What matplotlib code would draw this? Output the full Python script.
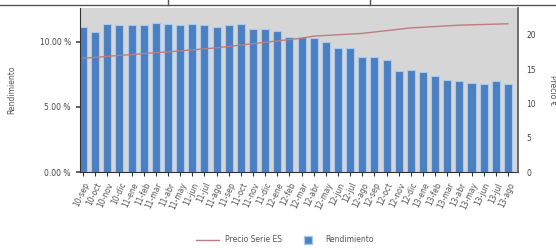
import matplotlib
matplotlib.use("Agg")
import matplotlib.pyplot as plt
from matplotlib.lines import Line2D
from matplotlib.ticker import FuncFormatter

labels = ["10-sep", "10-oct", "10-nov", "10-dic", "11-ene", "11-feb", "11-mar", "11-abr",
          "11-may", "11-jun", "11-jul", "11-ago", "11-sep", "11-oct", "11-nov", "11-dic",
          "12-ene", "12-feb", "12-mar", "12-abr", "12-may", "12-jun", "12-jul", "12-ago",
          "12-sep", "12-oct", "12-nov", "12-dic", "13-ene", "13-feb", "13-mar", "13-abr",
          "13-may", "13-jun", "13-jul", "13-ago"]
rendimiento = [11.15, 10.77, 11.38, 11.30, 11.30, 11.30, 11.46, 11.35, 11.30, 11.38,
               11.30, 11.15, 11.30, 11.38, 11.00, 11.00, 10.80, 10.36, 10.40, 10.33,
               10.00, 9.50, 9.56, 8.80, 8.82, 8.60, 7.77, 7.85, 7.72, 7.38,
               7.08, 7.00, 6.87, 6.73, 7.02, 6.73]
precio = [16.6, 16.7, 16.85, 17.0, 17.1, 17.25, 17.4, 17.5, 17.65, 17.8,
          17.95, 18.1, 18.3, 18.5, 18.7, 18.9, 19.1, 19.3, 19.5, 19.8,
          19.9, 20.0, 20.1, 20.2, 20.4, 20.6, 20.8, 21.0, 21.1, 21.2,
          21.3, 21.4, 21.45, 21.5, 21.55, 21.6]

fig = plt.figure(figsize=(5.56, 2.48), dpi=100)
ax = fig.add_axes([80/556, 1-172/248, 438/556, 164/248])
ax.set_facecolor("#d6d6d6")
x = list(range(len(rendimiento)))
ax.bar(x, rendimiento, width=0.66, color="#4a7fc1", edgecolor="#a9c8ec", linewidth=0.8, zorder=2)
ax.set_ylim(0, 12.6)
ax.set_xlim(-0.25, 35.83)
ax.set_yticks([0, 5, 10])
ax.yaxis.set_major_formatter(FuncFormatter(lambda v, p: f"{v:.2f} %"))
ax.set_xticks(x)
ax.set_xticklabels(labels, rotation=65, ha="right", rotation_mode="anchor", fontsize=5.5, color="#555555")
ax.tick_params(axis="y", labelsize=5.5, colors="#444444", length=3, width=1.2, direction="out")
ax.tick_params(axis="x", length=3, width=0.8, colors="#333333", labelcolor="#555555")
ax.set_ylabel("Rendimiento", fontsize=5.5, color="#555555", labelpad=17)
ax.spines["top"].set_visible(False)
ax.spines["left"].set_color("#333333")
ax.spines["bottom"].set_color("#333333")
ax.spines["right"].set_visible(False)

ax2 = ax.twinx()
ax2.plot(x, precio, color="#bf7b82", linewidth=1.0, zorder=3)
ax2.set_ylim(0, 23.9)
ax2.set_yticks([0, 5, 10, 15, 20])
ax2.tick_params(axis="y", labelsize=5.5, colors="#444444", length=0, pad=6)
ax2.spines["right"].set_color("#555555")
ax2.spines["right"].set_linewidth(1.2)
ax2.spines["top"].set_visible(False)
ax2.spines["left"].set_visible(False)
ax2.spines["bottom"].set_visible(False)
ax2.set_ylabel("Precio €", fontsize=5.5, color="#555555", rotation=270, labelpad=15)

handles = [Line2D([0], [0], color="#bf7b82", lw=1.0),
           Line2D([0], [0], color="none", marker="s", markersize=6,
                  markerfacecolor="#4a7fc1", markeredgecolor="#a9c8ec")]
fig.legend(handles, ["Precio Serie ES", "Rendimiento"], loc="center", bbox_to_anchor=(285/556, 1-240/248),
           ncol=2, frameon=False, fontsize=5.5, handlelength=3, columnspacing=1.8,
           labelcolor="#555555")

# table border lines from screenshot
fig.add_artist(Line2D([0, 1], [1-5/248, 1-5/248], color="#555555", lw=1.0, transform=fig.transFigure))
fig.add_artist(Line2D([168/556, 168/556], [1-5/248, 1], color="#555555", lw=1.0, transform=fig.transFigure))
fig.add_artist(Line2D([370/556, 370/556], [1-5/248, 1], color="#555555", lw=1.0, transform=fig.transFigure))

fig.savefig("out.png", dpi=100)
